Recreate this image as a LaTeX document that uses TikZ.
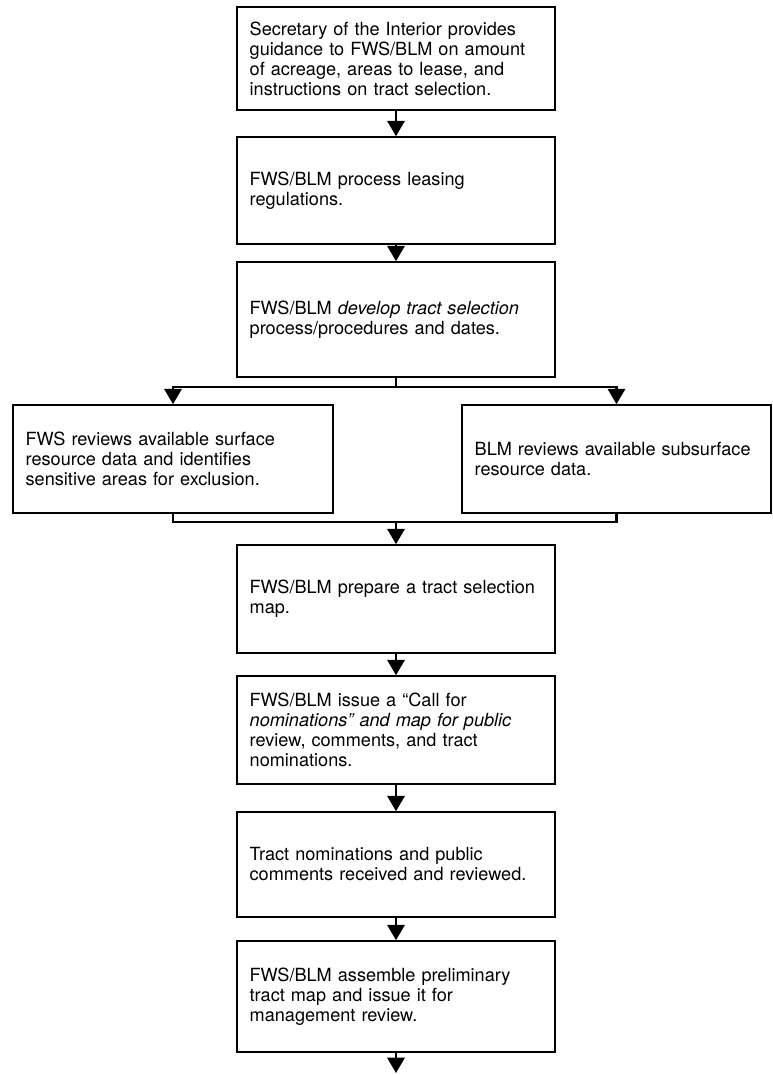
\documentclass[tikz,border=0pt]{standalone}
\usepackage{fontspec}
\setmainfont{TeX Gyre Heros}
\usetikzlibrary{arrows.meta}
\newcommand\boxfont{\fontsize{13.6pt}{15pt}\selectfont}
\tikzset{
  box/.style={draw, line width=1.2pt, inner xsep=9.5pt, inner ysep=0pt, align=left, anchor=center, font=\boxfont},
  mainbox/.style={box, text width=219.5pt},
  leftbox/.style={box, text width=221pt},
  rightbox/.style={box, text width=212.75pt},
  ln/.style={line width=1.7pt},
  arr/.style={line width=1.7pt, -{Triangle[width=13pt,length=11.5pt]}}
}
\begin{document}
\begin{tikzpicture}[x=0.75pt,y=-0.75pt]
\fill[white] (0,0) rectangle (773,1075);
\useasboundingbox (0,0) rectangle (773,1075);

\node[mainbox, minimum height=77.25pt] (b1) at (396,58.5)
  {Secretary of the Interior provides\\guidance to FWS/BLM on amount\\of acreage, areas to lease, and\\instructions on tract selection.};
\node[mainbox, minimum height=80.25pt] (b2) at (396,190.5)
  {FWS/BLM process leasing\\regulations.};
\node[mainbox, minimum height=86.25pt] (b3) at (396,319.5)
  {FWS/BLM \textit{develop tract selection}\\process/procedures and dates.};
\node[leftbox, minimum height=81pt] (bl) at (173,459)
  {FWS reviews available surface\\resource data and identifies\\sensitive areas for exclusion.};
\node[rightbox, minimum height=81pt] (br) at (616.5,459)
  {BLM reviews available subsurface\\resource data.};
\node[mainbox, minimum height=81pt] (b5) at (396,599)
  {FWS/BLM prepare a tract selection\\map.};
\node[mainbox, minimum height=81pt] (b6) at (396,730)
  {FWS/BLM issue a “Call for\\\textit{nominations” and map for public}\\review, comments, and tract\\nominations.};
\node[mainbox, minimum height=78.75pt] (b7) at (396,864.5)
  {Tract nominations and public\\comments received and reviewed.};
\node[mainbox, minimum height=83.25pt] (b8) at (396,996.5)
  {FWS/BLM assemble preliminary\\tract map and issue it for\\management review.};

\coordinate (split) at (396,387);
\coordinate (merge) at (396,522);
\coordinate (end) at (396,1073);

\draw[arr] (b1.south) -- (b2.north);
\draw[arr] (b2.south) -- (b3.north);
\draw[ln] (b3.south) -- (split);
\draw[arr] (split) -| (bl.north);
\draw[arr] (split) -| (br.north);
\draw[ln] (bl.south) |- (merge);
\draw[ln] (br.south) |- (merge);
\draw[arr] (merge) -- (b5.north);
\draw[arr] (b5.south) -- (b6.north);
\draw[arr] (b6.south) -- (b7.north);
\draw[arr] (b7.south) -- (b8.north);
\draw[arr] (b8.south) -- (end);
\end{tikzpicture}
\end{document}
